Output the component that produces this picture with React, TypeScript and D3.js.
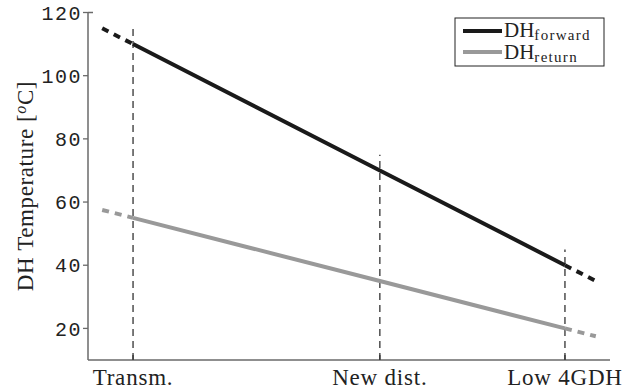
import React from "react";
import * as d3 from "d3";

// Supply-temperature reduction path (relative position along the axis)
const stages = ["Transm.", "New dist.", "Low 4GDH"];
const stagePos = [0, 40, 70];
const forwardTemp = [110, 70, 40];
const returnTemp = [55, 35, 20];
// Extrapolated ends of each line
const extPos = [-5, 75];
const forwardExt = [115, 35];
const returnExt = [57.5, 17.5];
const yTicks = [20, 40, 60, 80, 100, 120];

const W = 623;
const H = 392;
const left = 88;
const right = 610;
const top = 12.5;
const bottom = 360;

export default function App() {
  const x = d3.scaleLinear().domain([-7.3, 77.3]).range([left, right]);
  const y = d3.scaleLinear().domain([10, 120]).range([bottom, top]);
  const line = d3
    .line<[number, number]>()
    .x((d) => x(d[0]))
    .y((d) => y(d[1]));

  const fwdMain = stagePos.map((p, i) => [p, forwardTemp[i]] as [number, number]);
  const retMain = stagePos.map((p, i) => [p, returnTemp[i]] as [number, number]);
  const fwdL: [number, number][] = [[extPos[0], forwardExt[0]], fwdMain[0]];
  const fwdR: [number, number][] = [fwdMain[2], [extPos[1], forwardExt[1]]];
  const retL: [number, number][] = [[extPos[0], returnExt[0]], retMain[0]];
  const retR: [number, number][] = [retMain[2], [extPos[1], returnExt[1]]];

  const dark = "#1a1a1a";
  const light = "#999999";
  const axisCol = "#6a6a6a";
  const serif = "'Liberation Serif', 'DejaVu Serif', serif";
  const mono = "'Liberation Mono', 'DejaVu Sans Mono', monospace";

  return (
    <svg width={W} height={H} style={{ position: "absolute", left: 0, top: 0, background: "#fff" }}>
      {/* stage markers */}
      {stagePos.map((p, i) => (
        <line
          key={stages[i]}
          x1={x(p)}
          x2={x(p)}
          y1={bottom}
          y2={y(forwardTemp[i] + 5)}
          stroke="#333"
          strokeWidth={1.3}
          strokeDasharray="7,5"
        />
      ))}

      {/* axes */}
      <line x1={left} x2={left} y1={top} y2={bottom} stroke={axisCol} strokeWidth={1.5} />
      <line x1={left} x2={left + 5} y1={top} y2={top} stroke={axisCol} strokeWidth={1.5} />
      <line x1={left} x2={right} y1={bottom} y2={bottom} stroke={axisCol} strokeWidth={1.5} />
      {stagePos.map((p, i) => (
        <line key={"t" + i} x1={x(p)} x2={x(p)} y1={bottom} y2={bottom - 5} stroke="#333" strokeWidth={1.3} />
      ))}
      {yTicks.map((t) => (
        <g key={t}>
          <line x1={left - 5} x2={left} y1={y(t)} y2={y(t)} stroke={axisCol} strokeWidth={1.3} />
          <text
            x={left - 6}
            y={y(t)}
            dy="0.36em"
            textAnchor="end"
            fontFamily={mono}
            fontSize={20}
            letterSpacing={1.5}
            fill="#222"
          >
            {t}
          </text>
        </g>
      ))}
      {stages.map((s, i) => (
        <text
          key={s}
          x={x(stagePos[i])}
          y={385}
          textAnchor="middle"
          fontFamily={serif}
          fontSize={23}
          letterSpacing={0.8}
          fill="#222"
        >
          {s}
        </text>
      ))}
      <text
        transform={`translate(33, 186) rotate(-90)`}
        textAnchor="middle"
        fontFamily={serif}
        fontSize={23}
        letterSpacing={0.6}
        fill="#222"
      >
        DH Temperature [<tspan fontStyle="italic" dy="-7" fontSize={16}>o</tspan>
        <tspan dy="7">C]</tspan>
      </text>

      {/* temperature lines */}
      <path d={line(retMain)!} fill="none" stroke={light} strokeWidth={4} />
      <path d={line(retL)!} fill="none" stroke={light} strokeWidth={4} strokeDasharray="7,6" />
      <path d={line(retR)!} fill="none" stroke={light} strokeWidth={4} strokeDasharray="7,6" />
      <path d={line(fwdMain)!} fill="none" stroke={dark} strokeWidth={4} />
      <path d={line(fwdL)!} fill="none" stroke={dark} strokeWidth={4} strokeDasharray="7,6" />
      <path d={line(fwdR)!} fill="none" stroke={dark} strokeWidth={4} strokeDasharray="7,6" />

      {/* legend */}
      <rect x={455} y={18} width={149} height={48} fill="#fff" stroke="#222" strokeWidth={1} />
      <line x1={463} x2={502} y1={31} y2={31} stroke={dark} strokeWidth={4} />
      <line x1={463} x2={502} y1={52} y2={52} stroke={light} strokeWidth={4} />
      <text x={504} y={37} fontFamily={serif} fontSize={21} fill="#222">
        DH<tspan fontSize={15} dy="2.5" letterSpacing={1.3}>forward</tspan>
      </text>
      <text x={504} y={59} fontFamily={serif} fontSize={21} fill="#222">
        DH<tspan fontSize={15} dy="2.5" letterSpacing={1.3}>return</tspan>
      </text>
    </svg>
  );
}
